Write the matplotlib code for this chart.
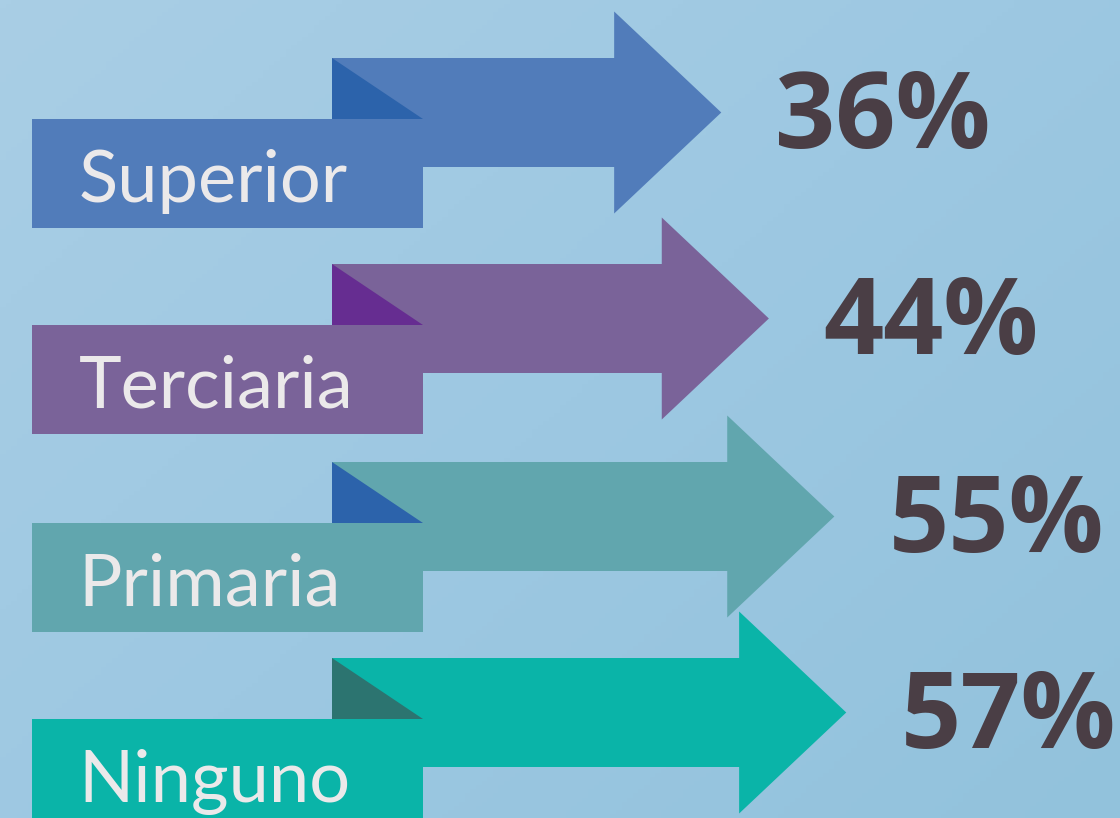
import matplotlib
matplotlib.use('Agg')
import matplotlib.pyplot as plt
from matplotlib.patches import Polygon, Rectangle
from matplotlib.colors import LinearSegmentedColormap
import numpy as np

# datos
categorias = ['Superior', 'Terciaria', 'Primaria', 'Ninguno']
valores = [36, 44, 55, 57]

# colores por fila (flecha, pliegue)
colores = ['#517cba', '#7a6399', '#61a6ae', '#0ab4a8']
pliegues = ['#2c63ab', '#662d91', '#2c63ab', '#2c7470']
color_texto = '#ebe9ea'
color_pct = '#4a3e45'

# posición vertical de cada fila (unidades de fila)
filas = [0, 1.03, 2.02, 3.0]

fig = plt.figure(figsize=(11.2, 8.18), dpi=100)
ax = fig.add_axes([0, 0, 1, 1])

# eje x en unidades de valor (la punta de la flecha = valor)
ax.set_xlim(-85.2, 103.0)
ax.set_ylim(3.5275, -0.5625)
ax.axis('off')

# fondo degradado azul claro
gx, gy = np.meshgrid(np.linspace(0, 1, 200), np.linspace(0, 1, 200))
grad = 0.55 * gx + 0.45 * gy
cmap = LinearSegmentedColormap.from_list('bg', ['#a9cee5', '#9dc8e2', '#92c2dc'])
ax.imshow(grad, cmap=cmap, extent=(-85.2, 103.0, 3.5275, -0.5625),
          aspect='auto', zorder=0)

inicio = -29.4       # inicio del cuerpo de la flecha
caja_izq, caja_der = -79.8, -14.2
media_cuerpo = 0.2725
media_punta = 0.505
largo_punta = 18.0

for i, (cat, v) in enumerate(zip(categorias, valores)):
    y = filas[i]
    base = v - largo_punta
    # cuerpo + punta
    flecha = Polygon([
        (inicio, y - media_cuerpo), (base, y - media_cuerpo),
        (base, y - media_punta), (v, y), (base, y + media_punta),
        (base, y + media_cuerpo), (inicio, y + media_cuerpo),
    ], closed=True, facecolor=colores[i], edgecolor='none', zorder=2)
    ax.add_patch(flecha)

    # pliegue oscuro
    top = y - media_cuerpo
    bot = y + 0.0325
    ax.add_patch(Polygon([(inicio, top), (inicio, bot), (caja_der, bot)],
                         closed=True, facecolor=pliegues[i],
                         edgecolor='none', zorder=3))

    # caja de etiqueta
    ax.add_patch(Rectangle((caja_izq, bot), caja_der - caja_izq, 0.545,
                           facecolor=colores[i], edgecolor='none', zorder=3))
    ax.text(caja_izq + 7.8, bot + 0.415, cat, ha='left', va='baseline',
            fontsize=52, color=color_texto, family='Lato', zorder=4)

    # porcentaje
    ax.text(v + 9.1, y + 0.04, f'{v}%', ha='left', va='center',
            fontsize=76, fontweight='bold', color=color_pct,
            family='Open Sans', zorder=4)

fig.savefig('out.png', dpi=100)
